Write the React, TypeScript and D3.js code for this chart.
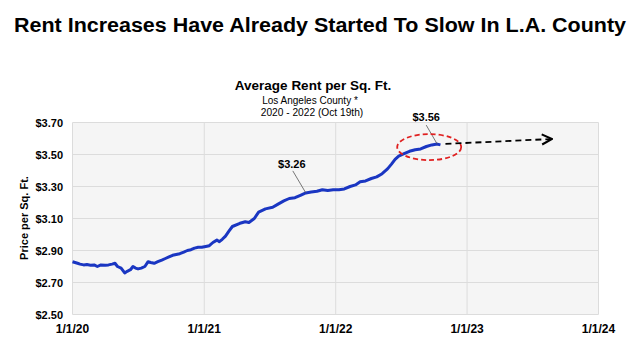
import React from "react";
import * as d3 from "d3";

const dates: string[] = [
  "2020-01-01","2020-01-08","2020-01-15","2020-01-22","2020-02-01","2020-02-10","2020-02-20","2020-03-01","2020-03-10","2020-03-20",
  "2020-04-01","2020-04-10","2020-04-20","2020-04-28","2020-05-05","2020-05-15","2020-05-25","2020-06-01","2020-06-10","2020-06-17",
  "2020-06-24","2020-07-01","2020-07-10","2020-07-20","2020-07-29","2020-08-05","2020-08-15","2020-08-25","2020-09-05","2020-09-15",
  "2020-09-25","2020-10-05","2020-10-15","2020-10-25","2020-11-05","2020-11-15","2020-11-25","2020-12-05","2020-12-15","2020-12-25",
  "2021-01-05","2021-01-15","2021-01-25","2021-02-05","2021-02-12","2021-02-20","2021-03-01","2021-03-10","2021-03-20","2021-04-10",
  "2021-04-25","2021-05-05","2021-05-20","2021-06-01","2021-06-20","2021-07-10","2021-07-25","2021-08-10","2021-08-25","2021-09-10",
  "2021-09-25","2021-10-10","2021-10-25","2021-11-10","2021-11-25","2021-12-10","2021-12-25","2022-01-10","2022-01-25","2022-02-10",
  "2022-02-25","2022-03-10","2022-03-25","2022-04-10","2022-04-25","2022-05-10","2022-05-25","2022-06-05","2022-06-15","2022-06-25",
  "2022-07-10","2022-07-25","2022-08-10","2022-08-25","2022-09-10","2022-09-25","2022-10-10","2022-10-19"
];
const rents: number[] = [
  2.83,2.825,2.82,2.815,2.81,2.812,2.808,2.81,2.80,2.81,
  2.808,2.81,2.815,2.82,2.80,2.79,2.76,2.77,2.78,2.80,
  2.79,2.785,2.79,2.80,2.83,2.825,2.82,2.83,2.84,2.85,
  2.86,2.87,2.875,2.88,2.89,2.90,2.905,2.915,2.92,2.92,
  2.925,2.93,2.95,2.965,2.955,2.97,2.99,3.02,3.05,3.07,
  3.08,3.075,3.10,3.14,3.16,3.17,3.19,3.21,3.225,3.23,
  3.245,3.26,3.265,3.27,3.28,3.275,3.28,3.28,3.285,3.30,
  3.31,3.33,3.335,3.35,3.36,3.38,3.41,3.44,3.47,3.49,
  3.505,3.52,3.53,3.535,3.55,3.56,3.565,3.56
];
const yTicks: number[] = [2.5, 2.7, 2.9, 3.1, 3.3, 3.5, 3.7];
const xTickDates: string[] = ["2020-01-01", "2021-01-01", "2022-01-01", "2023-01-01", "2024-01-01"];
const xTickLabels: string[] = ["1/1/20", "1/1/21", "1/1/22", "1/1/23", "1/1/24"];
const callouts = [
  { date: "2021-10-10", value: 3.26, label: "$3.26" },
  { date: "2022-10-10", value: 3.565, label: "$3.56" },
];

const FONT = "'Liberation Sans', Arial, sans-serif";

export default function App() {
  const W = 640, H = 355;
  const left = 72.5, right = 598.5, top = 122.5, bottom = 314.5;
  const parse = d3.timeParse("%Y-%m-%d");
  const x = d3.scaleTime().domain([parse("2020-01-01")!, parse("2024-01-01")!]).range([left, right]);
  const y = d3.scaleLinear().domain([2.5, 3.7]).range([bottom, top]);
  const pts = dates.map((d, i) => ({ d: parse(d)!, v: rents[i] }));
  const line = d3.line<{ d: Date; v: number }>().x(p => x(p.d)).y(p => y(p.v));
  const last = pts[pts.length - 1];
  const c1 = callouts[0], c2 = callouts[1];
  const c1x = x(parse(c1.date)!), c1y = y(c1.value);
  const c2x = x(parse(c2.date)!), c2y = y(c2.value);
  const lx = x(last.d), ly = y(last.v);
  return (
    <div style={{ position: "fixed", left: 0, top: 0 }}>
      <svg width={W} height={H} style={{ display: "block", background: "#fff" }} fontFamily={FONT}>
        <defs>
          <marker id="arr" viewBox="0 0 10 10" refX="9" refY="5" markerWidth="7" markerHeight="7" orient="auto">
            <path d="M1,1 L9,5 L1,9" fill="none" stroke="#000" strokeWidth="1.6" />
          </marker>
        </defs>
        <text x={320} y={32} textAnchor="middle" fontSize={20} fontWeight="bold" textLength={612} lengthAdjust="spacingAndGlyphs">
          Rent Increases Have Already Started To Slow In L.A. County
        </text>
        <text x={313} y={90} textAnchor="middle" fontSize={13.5} fontWeight="bold">Average Rent per Sq. Ft.</text>
        <text x={310} y={104} textAnchor="middle" fontSize={10}>Los Angeles County *</text>
        <text x={312} y={116} textAnchor="middle" fontSize={10.2}>2020 - 2022 (Oct 19th)</text>

        <rect x={left} y={top} width={right - left} height={bottom - top} fill="#f5f5f5" />
        {yTicks.map(t => (
          <line key={"gy" + t} x1={left} x2={right} y1={y(t)} y2={y(t)} stroke="#dcdcdc" strokeWidth={1} />
        ))}
        {xTickDates.map(t => (
          <line key={"gx" + t} x1={x(parse(t)!)} x2={x(parse(t)!)} y1={top} y2={bottom} stroke="#dcdcdc" strokeWidth={1} />
        ))}
        {yTicks.map(t => (
          <text key={"ty" + t} x={63} y={y(t) + 4} textAnchor="end" fontSize={11} fontWeight="bold">
            {d3.format("$.2f")(t)}
          </text>
        ))}
        {xTickDates.map((t, i) => (
          <text key={"tx" + t} x={x(parse(t)!)} y={333} textAnchor="middle" fontSize={12} fontWeight="bold">
            {xTickLabels[i]}
          </text>
        ))}
        <text transform="translate(28,218) rotate(-90)" textAnchor="middle" fontSize={11} fontWeight="bold">Price per Sq. Ft.</text>

        <path d={line(pts) || ""} fill="none" stroke="#1a36c2" strokeWidth={3} strokeLinejoin="round" />

        <line x1={c1x - 13} x2={c1x} y1={c1y - 22} y2={c1y} stroke="#555" strokeWidth={0.8} />
        <text x={c1x - 14} y={c1y - 25} textAnchor="middle" fontSize={11} fontWeight="bold">{c1.label}</text>
        <line x1={c2x - 11} x2={c2x} y1={c2y - 19} y2={c2y} stroke="#555" strokeWidth={0.8} />
        <text x={c2x - 11} y={c2y - 23} textAnchor="middle" fontSize={11} fontWeight="bold">{c2.label}</text>

        <ellipse cx={c2x - 8} cy={c2y + 3} rx={32} ry={13} fill="none" stroke="#e02020" strokeWidth={1.8} strokeDasharray="5,3" />
        <line x1={lx + 5} y1={ly - 1} x2={552} y2={139} stroke="#000" strokeWidth={1.8} strokeDasharray="6,4" markerEnd="url(#arr)" />
      </svg>
    </div>
  );
}
